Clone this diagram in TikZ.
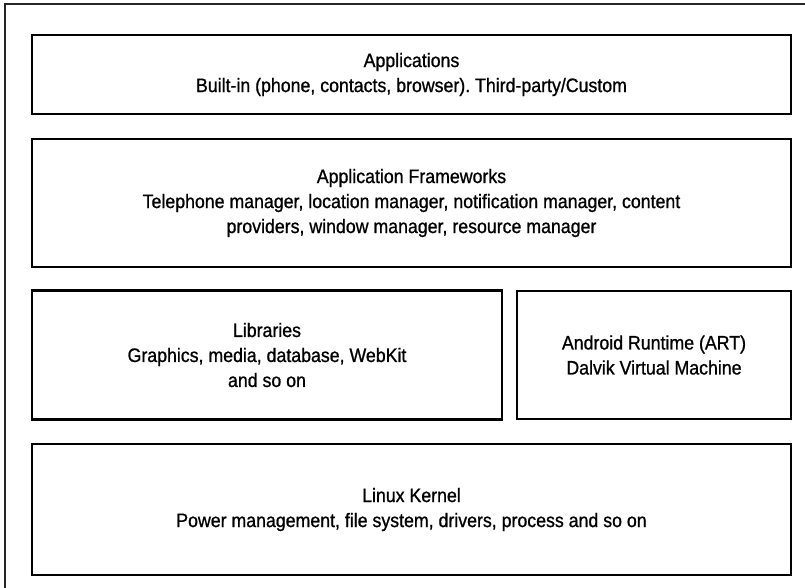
\documentclass[tikz,border=0pt]{standalone}
\usepackage{fontspec}
\setmainfont{Liberation Sans}[FakeStretch=0.91,FakeBold=0.9]
\frenchspacing
\begin{document}
\begin{tikzpicture}[x=1pt,y=-1pt,
  layer/.style={draw=black, line width=2.6pt, rectangle, inner sep=0pt,
    align=center, font=\fontsize{19.5}{25}\selectfont},
  frame/.style={draw=black!85, line width=2.6pt}]
\useasboundingbox (0,0) rectangle (805,587);
\clip (0,0) rectangle (805,587);
\fill[white] (0,0) rectangle (805,587);
\draw[frame] (5,4) rectangle (830,610);
\node[layer, minimum width=759pt, minimum height=79pt] (apps) at (411.5,74.5)
  {Applications\\Built-in (phone, contacts, browser). Third-party/Custom};
\node[layer, minimum width=759pt, minimum height=128pt] (fw) at (411.5,203)
  {Application Frameworks\\Telephone manager, location manager, notification manager, content\\providers, window manager, resource manager};
\node[layer, minimum width=470pt, minimum height=129pt] (libs) at (267,355)
  {Libraries\\Graphics, media, database, WebKit\\and so on};
\node[layer, minimum width=274pt, minimum height=128pt] (art) at (654,355)
  {Android Runtime (ART)\\Dalvik Virtual Machine};
\node[layer, minimum width=759pt, minimum height=131pt] (kernel) at (411.5,509.5)
  {Linux Kernel\\Power management, file system, drivers, process and so on};
\end{tikzpicture}
\end{document}
